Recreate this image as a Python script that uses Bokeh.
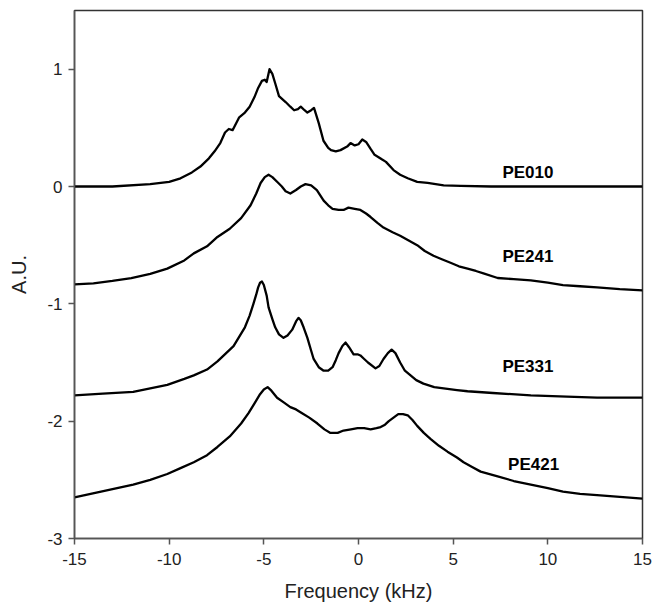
from bokeh.plotting import figure
from bokeh.models import Range1d, FixedTicker, ColumnDataSource
from bokeh.core.properties import value
from bokeh.embed import file_html
from bokeh.resources import INLINE

# ---- data ----
pe010_x = [-15, -13, -11, -10, -9.4, -8.8, -8.35, -7.9, -7.6, -7.3, -7.05, -6.85, -6.65, -6.3, -6.0, -5.75,
           -5.5, -5.3, -5.1, -4.95, -4.85, -4.7, -4.55, -4.4, -4.2, -3.85, -3.6, -3.4, -3.2, -3.05, -2.85,
           -2.7, -2.5, -2.35, -2.1, -1.85, -1.6, -1.45, -1.2, -0.95, -0.6, -0.42, -0.2, 0.0, 0.2, 0.4, 0.64,
           0.85, 1.06, 1.25, 1.45, 1.85, 2.2, 2.6, 3.1, 3.65, 4.5, 5.4, 7, 9, 11, 13, 15]
pe010_y = [0, 0, 0.02, 0.04, 0.07, 0.12, 0.17, 0.24, 0.30, 0.37, 0.46, 0.49, 0.48, 0.59, 0.63, 0.68,
           0.76, 0.84, 0.90, 0.91, 0.89, 1.0, 0.96, 0.88, 0.77, 0.72, 0.68, 0.65, 0.66, 0.68, 0.65,
           0.63, 0.65, 0.67, 0.54, 0.39, 0.33, 0.31, 0.30, 0.31, 0.34, 0.37, 0.35, 0.36, 0.40, 0.38, 0.32,
           0.27, 0.25, 0.23, 0.21, 0.14, 0.10, 0.07, 0.04, 0.03, 0.01, 0.005, 0, 0, 0, 0, 0]

pe241_x = [-15, -14, -13, -12, -11, -10.1, -9.2, -8.7, -8, -7.45, -6.8, -6.2, -5.7, -5.4, -5.17, -4.95,
           -4.75, -4.55, -4.3, -4.05, -3.85, -3.6, -3.3, -3.05, -2.8, -2.5, -2.2, -1.84, -1.6, -1.37,
           -1.05, -0.79, -0.53, -0.2, 0.1, 0.4, 0.64, 1.0, 1.32, 1.8, 2.2, 2.65, 3.1, 3.5, 3.96, 4.4,
           4.86, 5.3, 5.76, 6.2, 6.6, 7.35, 8.2, 9.1, 10, 10.8, 11.7, 12.6, 13.8, 15]
pe241_y = [-0.835, -0.825, -0.805, -0.78, -0.745, -0.70, -0.63, -0.57, -0.51, -0.43, -0.36, -0.27, -0.16,
           -0.06, 0.03, 0.08, 0.10, 0.08, 0.04, 0.0, -0.04, -0.06, -0.03, 0.0, 0.02, 0.01, -0.03, -0.12,
           -0.16, -0.19, -0.20, -0.20, -0.18, -0.19, -0.20, -0.23, -0.26, -0.31, -0.35, -0.39, -0.42,
           -0.46, -0.50, -0.55, -0.59, -0.62, -0.65, -0.68, -0.70, -0.72, -0.74, -0.78, -0.79, -0.80,
           -0.82, -0.84, -0.85, -0.86, -0.875, -0.885]

pe331_x = [-15, -13.5, -11.9, -11, -10.1, -9.2, -8.7, -8, -7.45, -6.6, -6.0, -5.75, -5.55, -5.4, -5.3,
           -5.2, -5.1, -5.0, -4.85, -4.75, -4.55, -4.4, -4.2, -3.96, -3.75, -3.5, -3.3, -3.17, -3.05,
           -2.9, -2.7, -2.5, -2.37, -2.1, -1.84, -1.6, -1.37, -1.2, -1.05, -0.85, -0.68, -0.5, -0.26,
           -0.05, 0.1, 0.3, 0.5, 0.9, 1.1, 1.32, 1.55, 1.75, 1.95, 2.2, 2.45, 2.75, 3.05, 3.43, 4.0,
           4.5, 5.2, 5.76, 7.1, 9.1, 11, 12.6, 15]
pe331_y = [-1.78, -1.765, -1.75, -1.72, -1.69, -1.64, -1.61, -1.56, -1.49, -1.36, -1.2, -1.1, -1.0,
           -0.92, -0.86, -0.82, -0.81, -0.84, -0.93, -1.03, -1.13, -1.2, -1.26, -1.29, -1.27, -1.22,
           -1.15, -1.12, -1.14, -1.2, -1.29, -1.4, -1.47, -1.54, -1.57, -1.57, -1.54, -1.48, -1.42,
           -1.36, -1.33, -1.37, -1.43, -1.43, -1.44, -1.47, -1.50, -1.55, -1.53, -1.47, -1.42, -1.39,
           -1.42, -1.50, -1.57, -1.61, -1.65, -1.68, -1.71, -1.72, -1.735, -1.745, -1.76, -1.78, -1.79,
           -1.80, -1.80]

pe421_x = [-15, -13.6, -11.9, -11, -10.1, -9.4, -8.7, -8, -7.45, -6.8, -6.2, -5.8, -5.5, -5.2, -5.0,
           -4.8, -4.6, -4.3, -3.95, -3.6, -3.3, -3.0, -2.6, -2.17, -1.8, -1.48, -1.1, -0.79, -0.4,
           -0.05, 0.3, 0.64, 0.95, 1.17, 1.4, 1.6, 1.85, 2.1, 2.35, 2.6, 2.85, 3.1, 3.45, 3.8, 4.25,
           4.7, 5.2, 5.55, 6.0, 6.45, 7.35, 8.2, 9.1, 10, 10.8, 11.7, 12.6, 13.8, 15]
pe421_y = [-2.65, -2.60, -2.54, -2.50, -2.45, -2.40, -2.35, -2.29, -2.22, -2.13, -2.02, -1.93, -1.85,
           -1.77, -1.73, -1.71, -1.74, -1.80, -1.84, -1.88, -1.90, -1.93, -1.97, -2.02, -2.07, -2.10,
           -2.10, -2.08, -2.07, -2.06, -2.06, -2.07, -2.06, -2.05, -2.03, -2.0, -1.97, -1.94, -1.94,
           -1.95, -1.99, -2.04, -2.10, -2.15, -2.21, -2.26, -2.31, -2.35, -2.39, -2.43, -2.47, -2.51,
           -2.54, -2.57, -2.60, -2.62, -2.63, -2.645, -2.66]

series_names = ["PE010", "PE241", "PE331", "PE421"]
label_x = [7.6, 7.6, 7.6, 7.9]
label_y = [0.12, -0.6, -1.53, -2.37]

x_ticks = [-15, -10, -5, 0, 5, 10, 15]
x_tick_labels = ["-15", "-10", "-5", "0", "5", "10", "15"]
y_ticks = [-3, -2, -1, 0, 1]
y_tick_labels = ["-3", "-2", "-1", "0", "1"]

p = figure(width=658, height=604, output_backend="svg", toolbar_location=None,
           x_range=Range1d(-15, 15), y_range=Range1d(-3, 1.5),
           min_border_left=74, min_border_right=16, min_border_top=10, min_border_bottom=65)
p.background_fill_color = "white"
p.border_fill_color = "white"
p.grid.visible = False
p.outline_line_color = "#333333"
p.outline_line_width = 1.5

for xs, ys in [(pe010_x, pe010_y), (pe241_x, pe241_y), (pe331_x, pe331_y), (pe421_x, pe421_y)]:
    assert len(xs) == len(ys)
    p.line(xs, ys, line_color="black", line_width=2.3, line_join="round")

src = ColumnDataSource(dict(x=label_x, y=label_y, t=series_names))
p.text(x="x", y="y", text="t", source=src, text_font=value("Liberation Sans"),
       text_font_style="bold", text_font_size="17px", text_color="black",
       text_align="left", text_baseline="middle")

for ax in (p.xaxis[0], p.yaxis[0]):
    ax.axis_line_color = "#555555"
    ax.axis_line_width = 1.5
    ax.major_tick_line_color = "#555555"
    ax.major_tick_line_width = 1.5
    ax.major_tick_out = 6
    ax.major_tick_in = 0
    ax.minor_tick_line_color = None
    ax.major_label_text_font = "Liberation Sans"
    ax.major_label_text_font_size = "17px"
    ax.major_label_text_color = "#222222"
    ax.axis_label_text_font = "Liberation Sans"
    ax.axis_label_text_font_size = "20px"
    ax.axis_label_text_font_style = "normal"
    ax.axis_label_text_color = "#222222"

p.xaxis.ticker = FixedTicker(ticks=x_ticks)
p.yaxis.ticker = FixedTicker(ticks=y_ticks)
p.xaxis.major_label_overrides = {t: s for t, s in zip(x_ticks, x_tick_labels)}
p.yaxis.major_label_overrides = {t: s for t, s in zip(y_ticks, y_tick_labels)}
p.xaxis.axis_label = "Frequency (kHz)"
p.yaxis.axis_label = "A.U."
p.xaxis.major_label_standoff = 8
p.yaxis.major_label_standoff = 6
p.xaxis.axis_label_standoff = 12
p.yaxis.axis_label_standoff = 14

open("out.html", "w").write(file_html(p, INLINE))
